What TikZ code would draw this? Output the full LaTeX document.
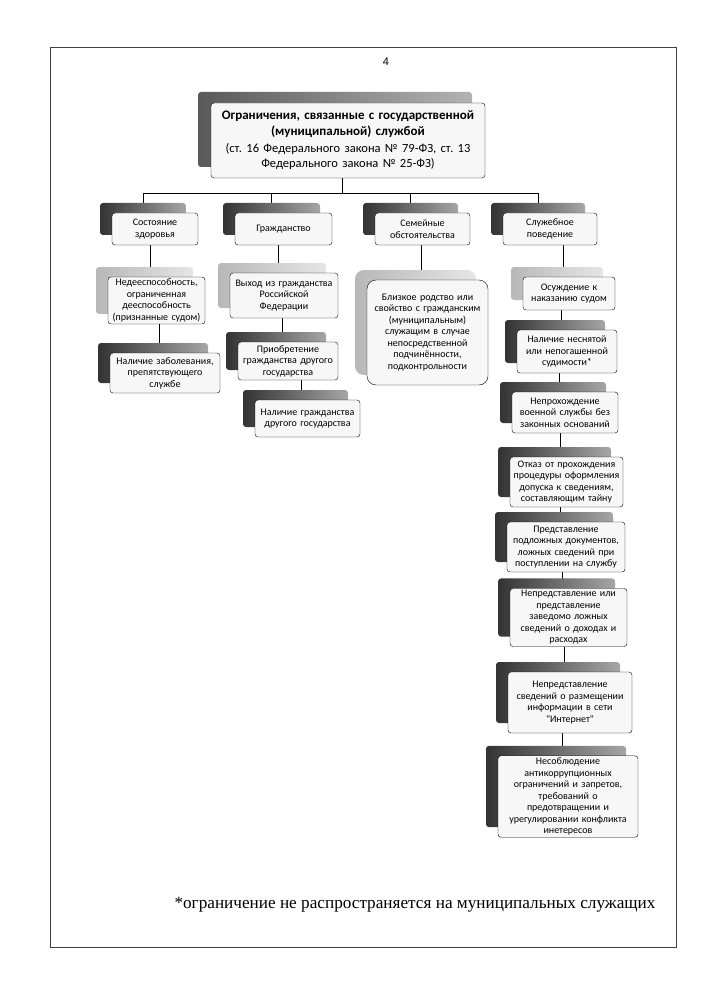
\documentclass[tikz,border=0pt]{standalone}
\usepackage{fontspec}
\setmainfont{Liberation Serif}
\newfontfamily\boxfont{Carlito}
\newfontfamily\numfont{Liberation Sans}
\usetikzlibrary{shadows,backgrounds}
\frenchspacing

\begin{document}
\begin{tikzpicture}[x=1pt,y=-1pt]
		\useasboundingbox (0,0) rectangle (708,1000);
		\tikzstyle{box}=[draw,thin,rounded corners=3pt,fill=gray!6,align=center,inner sep=2pt,font=\boxfont\fontsize{10}{11.5}\selectfont]
		\tikzstyle{darkbox}=[box,general shadow={shadow xshift=-12pt,shadow yshift=10pt,draw=none,left color=black!80,right color=black!35}]
		\tikzstyle{lightbox}=[box,general shadow={shadow xshift=-12pt,shadow yshift=10pt,draw=none,left color=black!28,right color=black!10}]
		\tikzstyle{link}=[thick,black]
		% page frame and texts
		\draw[black!75,line width=0.8pt] (50,47) rectangle (676,947);
		\node[font=\numfont\fontsize{11}{13}\selectfont] (page) at (386,62) {4};
		\node[font=\fontsize{17.2}{20}\selectfont] (note) at (415,905) {*ограничение не распространяется на муниципальных служащих};
		% top
		\node[box,general shadow={shadow xshift=-13pt,shadow yshift=11pt,draw=none,left color=black!65,right color=black!30},minimum width=274pt,minimum height=75pt,text width=270pt,font=\boxfont\fontsize{13}{15.5}\selectfont] (title) at (348,140.5)
			{{\bfseries Ограничения, связанные с государственной\\(муниципальной) службой}\\[2pt]
			{\fontsize{12.5}{15}\selectfont (ст. 16 Федерального закона № 79-ФЗ, ст. 13\\Федерального закона № 25-ФЗ)}};
		% groups
		\node[darkbox,minimum width=86pt,minimum height=32pt,text width=82pt] (health) at (155,229) {Состояние\\здоровья};
		\node[darkbox,minimum width=97pt,minimum height=32pt,text width=93pt] (citizen) at (283.5,229) {Гражданство};
		\node[darkbox,minimum width=95pt,minimum height=32pt,text width=91pt] (family) at (422.5,229) {Семейные\\обстоятельства};
		\node[darkbox,minimum width=94pt,minimum height=32pt,text width=90pt] (conduct) at (550,229) {Служебное\\поведение};
		% health
		\node[lightbox,minimum width=97pt,minimum height=45pt,text width=93pt] (incap) at (156.5,300.5) {Недееспособность,\\ограниченная\\дееспособность\\(признанные судом)};
		\node[darkbox,minimum width=110pt,minimum height=40pt,text width=106pt] (illness) at (165,373) {Наличие заболевания,\\препятствующего\\службе};
		% citizenship
		\node[lightbox,minimum width=108pt,minimum height=45pt,text width=104pt] (exit) at (284,295.5) {Выход из гражданства\\Российской\\Федерации};
		\node[darkbox,minimum width=100pt,minimum height=38pt,text width=96pt] (acquire) at (288,361) {Приобретение\\гражданства другого\\государства};
		\node[darkbox,minimum width=105pt,minimum height=37pt,text width=101pt] (foreign) at (307.5,418.5) {Наличие гражданства\\другого государства};
		% family
		\node[lightbox,rounded corners=9pt,minimum width=121pt,minimum height=105pt,text width=117pt] (kin) at (427.5,332.5) {Близкое родство или\\свойство с гражданским\\(муниципальным)\\служащим в случае\\непосредственной\\подчинённости,\\подконтрольности};
		% conduct
		\node[lightbox,minimum width=92pt,minimum height=33pt,text width=88pt] (convict) at (569,293.5) {Осуждение к\\наказанию судом};
		\node[darkbox,minimum width=100pt,minimum height=43pt,text width=96pt] (record) at (567,351.5) {Наличие неснятой\\или непогашенной\\судимости*};
		\node[darkbox,minimum width=106pt,minimum height=41pt,text width=102pt] (military) at (565,412.5) {Непрохождение\\военной службы без\\законных оснований};
		\node[darkbox,minimum width=113pt,minimum height=50pt,text width=109pt] (refusal) at (566.5,482) {Отказ от прохождения\\процедуры оформления\\допуска к сведениям,\\составляющим тайну};
		\node[darkbox,minimum width=118pt,minimum height=50pt,text width=114pt] (forged) at (566,547) {Представление\\подложных документов,\\ложных сведений при\\поступлении на службу};
		\node[darkbox,minimum width=117pt,minimum height=55pt,text width=113pt] (income) at (568.5,617.5) {Непредставление или\\представление\\заведомо ложных\\сведений о доходах и\\расходах};
		\node[darkbox,minimum width=124pt,minimum height=61pt,text width=120pt] (internet) at (570,702.5) {Непредставление\\сведений о размещении\\информации в сети\\"Интернет"};
		\node[darkbox,minimum width=140pt,minimum height=77pt,text width=136pt] (anticorr) at (568,796.5) {Несоблюдение\\антикоррупционных\\ограничений и запретов,\\требований о\\предотвращении и\\урегулировании конфликта\\инетересов};
		% connectors
		\begin{scope}[on background layer]
		\coordinate (busL) at ([xshift=-12pt]health.north |- 0,193);
		\coordinate (busR) at ([xshift=-12pt]conduct.north |- 0,193);
		\draw[link] (busL) -- (busR);
		\draw[link] ([xshift=-6pt]title.south) -- ([xshift=-6pt]title.south |- busL);
		\foreach \g in {health,citizen,family,conduct}
			\draw[link] ([xshift=-12pt]\g.north) -- ([xshift=-12pt]\g.north |- busL);
		\foreach \a/\b in {health/incap,incap/illness,citizen/exit,exit/acquire,acquire/foreign,family/kin,conduct/convict,convict/record,record/military,military/refusal,refusal/forged,forged/income,income/internet,internet/anticorr}
			\draw[link] ([xshift=-6pt]\b.north |- \a.south) -- ([xshift=-6pt]\b.north);
		\end{scope}
\end{tikzpicture}
\end{document}
